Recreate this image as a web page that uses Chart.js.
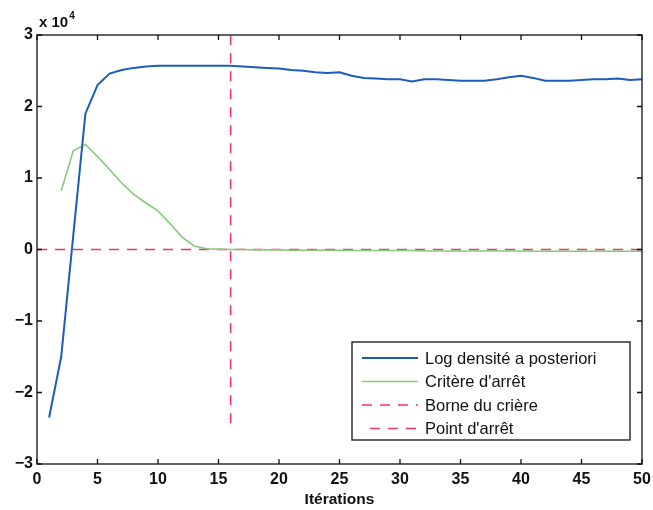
<!DOCTYPE html>
<html>
<head>
<meta charset="utf-8">
<script src="https://cdn.jsdelivr.net/npm/chart.js@4/dist/chart.umd.min.js"></script>
<style>
  body { margin: 0; background: #fff; }
  #wrap { width: 653px; height: 510px; }
</style>
</head>
<body>
<div id="wrap"><canvas id="c" width="653" height="510"></canvas></div>
<script>
// --- data (values in raw units, axis shows x 10^4) ---
const iterations = [1,2,3,4,5,6,7,8,9,10,11,12,13,14,15,16,17,18,19,20,21,22,23,24,25,
                    26,27,28,29,30,31,32,33,34,35,36,37,38,39,40,41,42,43,44,45,46,47,48,49,50];
const logDensity = [-23500,-15000,2000,19000,23000,24600,25100,25400,25600,25700,25700,25700,25700,25700,25700,
                    25700,25600,25500,25400,25300,25100,25000,24800,24700,24800,24300,24000,23900,23800,23800,
                    23500,23800,23800,23700,23600,23600,23600,23800,24100,24300,24000,23600,23600,23600,23700,
                    23800,23800,23900,23700,23800];
const critereIter = [2,3,4,5,6,7,8,9,10,11,12,13,14,15,16,17,18,19,20,21,22,23,24,25,26,
                     27,28,29,30,31,32,33,34,35,36,37,38,39,40,41,42,43,44,45,46,47,48,49,50];
const critere = [8200,13800,14700,13000,11200,9300,7700,6500,5400,3600,1700,500,100,50,0,
                 0,-50,-50,-50,-100,-100,-100,-100,-100,-150,-150,-150,-150,-150,-150,-200,-200,-200,
                 -200,-200,-200,-200,-200,-200,-250,-250,-250,-250,-250,-250,-250,-250,-250,-250];
const borneX = [0, 50];
const borneY = [0, 0];
const arretX = [16, 16];
const arretY = [-24300, 30000];
const xTicks = [0,5,10,15,20,25,30,35,40,45,50];
const yTicks = [-30000,-20000,-10000,0,10000,20000,30000];

const toPts = (xs, ys) => xs.map((x, i) => ({ x: x, y: ys[i] }));

const RED = '#f2336a';
const FONT = '"Liberation Sans", Arial, sans-serif';

// box, inward ticks, exponent label and legend (matlab look)
const matlabFrame = {
    id: 'matlabFrame',
    afterDraw(chart) {
        const ctx = chart.ctx;
        const a = chart.chartArea;
        const xs = chart.scales.x, ys = chart.scales.y;
        ctx.save();
        ctx.strokeStyle = '#111';
        ctx.lineWidth = 1.3;
        ctx.strokeRect(a.left, a.top, a.right - a.left, a.bottom - a.top);
        const tl = 5;
        ctx.beginPath();
        xTicks.forEach(v => {
            const px = xs.getPixelForValue(v);
            ctx.moveTo(px, a.bottom); ctx.lineTo(px, a.bottom - tl);
            ctx.moveTo(px, a.top); ctx.lineTo(px, a.top + tl);
        });
        yTicks.forEach(v => {
            const py = ys.getPixelForValue(v);
            ctx.moveTo(a.left, py); ctx.lineTo(a.left + tl, py);
            ctx.moveTo(a.right, py); ctx.lineTo(a.right - tl, py);
        });
        ctx.stroke();

        // x 10^4
        ctx.fillStyle = '#111';
        ctx.textBaseline = 'alphabetic';
        ctx.textAlign = 'left';
        ctx.font = 'bold 15px ' + FONT;
        ctx.fillText('x 10', a.left + 2, 27);
        const w = ctx.measureText('x 10').width;
        ctx.font = 'bold 10px ' + FONT;
        ctx.fillText('4', a.left + 3 + w, 19);

        // legend
        const lx = 352, ly = 342, lw = 278, lh = 98;
        ctx.fillStyle = '#fff';
        ctx.fillRect(lx, ly, lw, lh);
        ctx.strokeStyle = '#111';
        ctx.lineWidth = 1.3;
        ctx.strokeRect(lx, ly, lw, lh);
        ctx.font = '16.5px ' + FONT;
        ctx.textBaseline = 'middle';
        chart.data.datasets.forEach((ds, i) => {
            const y = ly + 16 + i * 23.5;
            ctx.strokeStyle = ds.borderColor;
            ctx.lineWidth = ds.borderWidth;
            ctx.setLineDash(ds.borderDash || []);
            ctx.lineDashOffset = ds.legendDashOffset || 0;
            ctx.beginPath();
            ctx.moveTo(362, y); ctx.lineTo(418, y);
            ctx.stroke();
            ctx.setLineDash([]);
            ctx.fillStyle = '#111';
            ctx.fillText(ds.label, 425, y + 1);
        });
        ctx.restore();
    }
};

new Chart(document.getElementById('c'), {
    type: 'line',
    data: {
        datasets: [{
            label: 'Log densité a posteriori',
            data: toPts(iterations, logDensity),
            borderColor: '#1c5cbb',
            borderWidth: 2,
            pointRadius: 0
        }, {
            label: "Critère d'arrêt",
            data: toPts(critereIter, critere),
            borderColor: '#86c97a',
            borderWidth: 1.6,
            pointRadius: 0
        }, {
            label: 'Borne du crière',
            data: toPts(borneX, borneY),
            borderColor: RED,
            borderWidth: 1.6,
            borderDash: [10, 8],
            pointRadius: 0
        }, {
            label: "Point d'arrêt",
            data: toPts(arretX, arretY),
            borderColor: RED,
            borderWidth: 1.6,
            borderDash: [10, 8],
            legendDashOffset: 10,
            pointRadius: 0
        }]
    },
    options: {
        responsive: false,
        animation: false,
        layout: { padding: { top: 35, right: 11, left: 0, bottom: 0 } },
        plugins: { legend: { display: false }, tooltip: { enabled: false } },
        scales: {
            x: {
                type: 'linear', min: 0, max: 50,
                afterBuildTicks: s => { s.ticks = xTicks.map(v => ({ value: v })); },
                ticks: { color: '#111', padding: 6, maxRotation: 0,
                         font: { family: FONT, size: 16, weight: 'bold' } },
                grid: { display: false, drawTicks: false, tickLength: 0 },
                border: { display: false },
                title: { display: true, text: 'Itérations', color: '#111', padding: { top: 0, bottom: 1 },
                         font: { family: FONT, size: 15.5, weight: 'bold' } },
                afterFit: s => { s.height = 46; s.paddingLeft = 0; s.paddingRight = 0; }
            },
            y: {
                min: -30000, max: 30000,
                afterBuildTicks: s => { s.ticks = yTicks.map(v => ({ value: v })); },
                ticks: { color: '#111', padding: 4, callback: v => String(v / 10000).replace('-', '\u2212'),
                         font: { family: FONT, size: 16, weight: 'bold' } },
                grid: { display: false, drawTicks: false, tickLength: 0 },
                border: { display: false },
                afterFit: s => { s.width = 37; s.paddingTop = 0; s.paddingBottom = 0; }
            }
        }
    },
    plugins: [matlabFrame]
});
</script>
</body>
</html>
